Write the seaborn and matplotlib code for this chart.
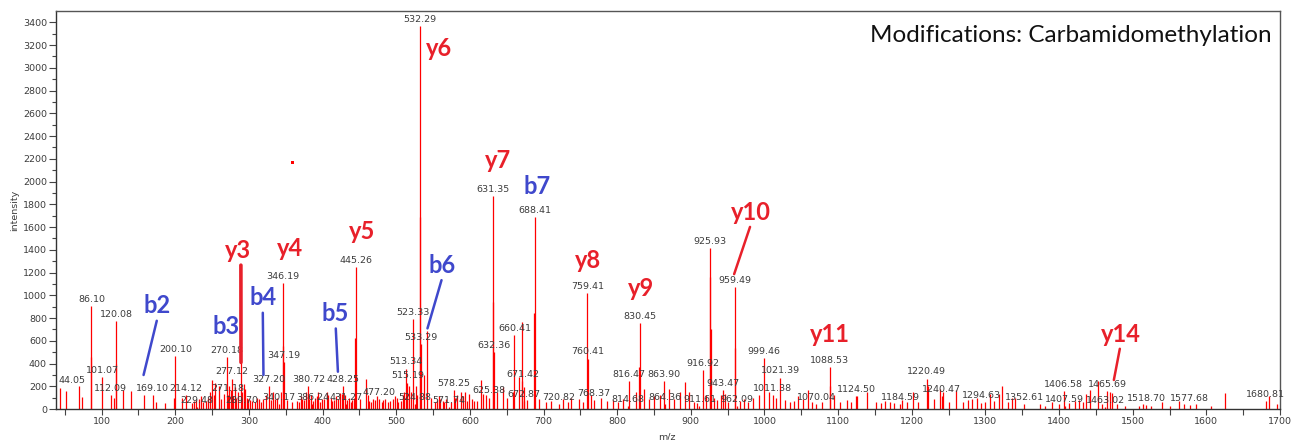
import matplotlib
matplotlib.use("Agg")
import matplotlib.pyplot as plt
import seaborn as sns
import pandas as pd

# ---- annotated fragment peaks (m/z, intensity) ----
labeled_mz = [44.05, 86.10, 101.07, 112.09, 120.08, 169.10, 200.10, 214.12, 229.48,
              270.18, 271.18, 277.12, 289.70, 327.20, 340.17, 346.19, 347.19, 380.72,
              386.24, 428.25, 431.27, 445.26, 477.20, 513.34, 515.19, 523.33, 524.88,
              532.29, 533.29, 571.74, 578.25, 625.38, 631.35, 632.36, 660.41, 671.42,
              672.87, 688.41, 720.82, 759.41, 760.41, 768.37, 814.68, 816.47, 830.45,
              863.90, 864.36, 911.61, 916.92, 925.93, 943.47, 959.49, 962.09, 999.46,
              1011.38, 1021.39, 1070.04, 1088.53, 1124.50, 1184.59, 1220.49, 1240.47,
              1294.63, 1352.61, 1406.58, 1407.59, 1463.02, 1465.69, 1518.70, 1577.68,
              1680.81]
labeled_int = [189, 905, 285, 127, 778, 127, 470, 127, 20,
               461, 127, 268, 20, 198, 48, 1105, 409, 198,
               40, 205, 40, 1250, 92, 356, 233, 795, 40,
               3370, 575, 20, 171, 101, 1870, 505, 648, 242,
               66, 1690, 48, 1024, 444, 83, 22, 242, 760,
               242, 40, 22, 347, 1415, 171, 1075, 22, 452,
               119, 277, 40, 365, 110, 40, 268, 110,
               57, 48, 154, 22, 20, 154, 31, 31,
               66]

# ---- remaining centroided peaks ----
other_mz = [51.7, 69.8, 73.5, 85.6, 117.4, 119.6, 128.8, 139.7, 157.1, 174.1, 186.4,
            197.7, 209.0, 222.0, 226.0, 228.0, 232.0, 235.0, 238.0, 241.0, 244.0, 247.0,
            250.0, 252.0, 254.4, 259.0, 262.0, 266.0, 272.5, 275.0, 279.0, 281.6, 283.0,
            285.3, 289.2, 291.0, 293.0, 295.0, 297.5, 299.0, 302.0, 304.0, 308.0, 311.0,
            313.0, 316.0, 319.7, 323.0, 330.0, 333.0, 336.0, 338.0, 342.9,
            345.7, 352.0, 358.0, 365.0, 368.0, 370.0, 372.0, 375.0, 377.0, 380.0, 382.0,
            384.0, 387.0, 390.0, 392.0, 394.0, 397.0, 399.0, 402.0, 405.4, 408.0,
            411.0, 413.0, 416.0, 418.0, 421.0, 423.6, 426.0, 430.0, 433.0, 435.8, 438.0,
            440.0, 442.0, 444.5, 451.0, 458.5, 461.0, 463.0, 466.0, 468.0, 471.0, 474.0,
            480.0, 482.0, 485.0, 489.0, 492.0, 495.0, 498.0, 501.6, 503.0, 506.0, 509.0,
            511.0, 514.0, 517.5, 520.0, 526.5, 528.0, 532.79,
            537.8, 541.5, 547.0, 552.0, 555.0, 558.0, 560.0, 563.0, 565.0, 568.0, 574.0,
            580.0, 583.0, 587.8, 590.0, 593.6, 596.0, 599.0, 603.0, 606.0, 610.0,
            615.0, 618.0, 621.8, 630.9, 637.0, 644.5, 650.0, 658.0, 667.0, 670.5, 674.0, 678.0,
            687.5, 694.0, 703.0, 710.0, 726.0, 733.0, 737.4, 748.7, 753.0, 764.0, 778.2,
            786.0, 794.0, 801.0, 808.0, 824.9, 829.9, 835.8, 843.0, 850.0, 857.6, 871.0,
            877.0, 884.8, 892.5, 897.0, 904.0, 908.0, 921.0, 926.43, 926.93, 931.0, 936.0,
            941.5, 946.0, 951.0, 959.99, 967.0, 972.0, 978.0, 984.6, 992.2, 1005.9, 1015.0,
            1028.0, 1034.0, 1040.0, 1045.8, 1052.0, 1059.4, 1065.0, 1077.6, 1089.5, 1094.8,
            1103.0, 1111.6, 1118.0, 1125.2, 1138.8, 1152.0, 1158.0, 1163.0, 1170.0, 1176.0,
            1186.3, 1193.0, 1201.4, 1208.0, 1221.5, 1230.0, 1238.5, 1243.0, 1250.0, 1259.9,
            1270.0, 1276.0, 1282.0, 1288.0, 1300.0, 1306.5, 1312.0, 1317.9, 1322.5, 1330.0,
            1336.0, 1340.6, 1374.6, 1381.0, 1390.5, 1400.0, 1414.0, 1422.0, 1426.8, 1432.0,
            1437.1, 1442.6, 1453.0, 1458.5, 1469.8, 1472.0, 1478.9, 1490.0, 1508.4, 1513.9,
            1525.0, 1540.1, 1550.0, 1562.8, 1570.0, 1585.4, 1605.8, 1625.4, 1685.2, 1696.6]
other_int = [161, 202, 105, 460, 96, 400, 167, 161, 120, 60, 52,
             100, 100, 50, 70, 80, 90, 110, 60, 70, 100, 150,
             255, 120, 232, 200, 90, 130, 200, 170, 110, 190, 100,
             150, 410, 150, 220, 180, 100, 90, 80, 70, 60, 100,
             90, 60, 90, 120, 80, 150, 90, 100, 150,
             556, 80, 60, 70, 60, 110, 90, 80, 150, 120, 90,
             120, 70, 100, 110, 150, 60, 90, 90, 150, 120,
             100, 70, 80, 110, 90, 140, 130, 120, 80, 100, 60,
             80, 100, 620, 90, 260, 120, 70, 60, 90, 80, 110,
             60, 80, 90, 60, 70, 90, 110, 100, 60, 70, 120,
             150, 100, 200, 150, 200, 120, 1690,
             300, 690, 100, 60, 80, 110, 90, 70, 60, 90, 60,
             100, 120, 150, 110, 150, 70, 130, 90, 70, 70,
             255, 130, 120, 940, 150, 190, 100, 150, 280, 766, 190, 80,
             840, 90, 60, 70, 90, 60, 100, 90, 60, 120, 100,
             70, 80, 60, 90, 150, 370, 180, 90, 110, 120, 180,
             90, 150, 240, 150, 60, 50, 120, 1160, 700, 100, 80,
             120, 130, 60, 533, 70, 90, 60, 100, 120, 150, 100,
             80, 60, 70, 110, 90, 170, 60, 60, 200, 120,
             60, 80, 60, 110, 150, 60, 50, 70, 60, 50,
             80, 60, 150, 60, 200, 90, 180, 150, 60, 170,
             60, 80, 90, 100, 60, 130, 70, 130, 200, 60,
             100, 100, 40, 30, 60, 40, 50, 70, 80, 60,
             130, 170, 250, 40, 150, 140, 40, 30, 30, 40,
             30, 60, 30, 70, 40, 40, 30, 140, 110, 40]

# ---- fragment ion assignments ----
ion_names = ["b2", "b3", "y3", "b4", "y4", "b5", "y5", "y6", "b6",
             "y7", "b7", "y8", "y9", "y10", "y11", "y14"]
ion_mz = [156.9, 270.18, 289.2, 319.7, 346.19, 420.8, 445.26, 532.29, 542.4,
          631.35, 688.41, 759.41, 830.45, 958.8, 1088.53, 1474.4]
ion_int = [299, 461, 410, 299, 1105, 328, 1250, 3370, 709,
           1870, 1690, 1024, 760, 1186, 365, 255]
ion_series = ["b", "b", "y", "b", "y", "b", "y", "y", "b",
              "y", "b", "y", "y", "y", "y", "y"]

# isolated point left from the acquisition
stray_mz = [358.8]
stray_int = [2168]

# ---- layout of the ion tags (offsets in pixels: dx right, dy down) ----
ion_offset_px = [(14, -69), (-0.6, -30), (-3.5, -112), (-0.7, -77), (6.8, -35),
                 (-2.3, -58), (6.4, -35), (19, 23), (15, -63),
                 (5, -36), (1.6, -30), (0.5, -32.5), (1.6, -34), (17, -62),
                 (0.2, -32.5), (6.6, -46)]
ion_pointer = [True, False, True, True, False, True, False, False, True,
               False, False, False, False, True, False, True]
ion_pointer_x = [0.5, 0.5, 0.63, 0.5, 0.5, 0.5, 0.5, 0.5, 0.5,
                 0.5, 0.5, 0.5, 0.5, 0.5, 0.5, 0.5]
ion_pointer_lw = [1.8, 1.8, 2.6, 1.8, 1.8, 1.8, 1.8, 1.8, 1.8,
                  1.8, 1.8, 1.8, 1.8, 1.8, 1.8, 1.8]

RED = "#ff0000"
ION_RED = "#e8202a"
ION_BLUE = "#3f48cc"
TEXT = "#3c3c3c"

sns.set_theme(style="ticks")
plt.rcParams["font.family"] = ["DejaVu Sans"]

peaks = pd.DataFrame({
    "mz": labeled_mz + other_mz,
    "intensity": labeled_int + other_int,
})

fig = plt.figure(figsize=(13.04, 4.40), dpi=100)
ax = fig.add_axes([56 / 1304, 31 / 440, 1224 / 1304, 398 / 440])

ax.vlines(peaks["mz"], 0, peaks["intensity"], color=RED, lw=0.9)

sns.scatterplot(x=stray_mz, y=stray_int, ax=ax, marker="s", s=5,
                color=RED, edgecolor="none", linewidth=0)

# m/z tags above annotated peaks (the first one nudged clear of the axis)
for i, (mz, inten) in enumerate(zip(labeled_mz, labeled_int)):
    dx = 8.0 if i == 0 else 0.0
    ax.annotate(f"{mz:.2f}", xy=(mz, inten), xytext=(dx, 4.7),
                textcoords="offset points", ha="center", va="center",
                fontsize=6.8, color=TEXT)

# fragment ion tags
px2pt = 0.72
for name, mz, inten, series, (dx, dy), ptr, rx, plw in zip(
        ion_names, ion_mz, ion_int, ion_series, ion_offset_px,
        ion_pointer, ion_pointer_x, ion_pointer_lw):
    col = ION_RED if series == "y" else ION_BLUE
    kw = {}
    if ptr:
        kw["arrowprops"] = dict(arrowstyle="-", color=col, lw=plw,
                                shrinkA=0, shrinkB=0, relpos=(rx, 0.0))
    ax.annotate(name, xy=(mz, inten), xytext=(dx * px2pt, -dy * px2pt),
                textcoords="offset points", ha="center", va="center",
                fontsize=17, fontweight="bold", color=col,
                family=["Lato", "DejaVu Sans"], **kw)

ax.text(0.9935, 0.938, "Modifications: Carbamidomethylation", transform=ax.transAxes,
        ha="right", va="center", fontsize=17.5, color="#111111",
        family=["Lato", "DejaVu Sans"])

ax.set_xlim(38, 1700)
ax.set_ylim(0, 3500)
ax.set_xticks(range(100, 1701, 100))
ax.set_xticks(range(50, 1701, 100), minor=True)
ax.set_yticks(range(0, 3401, 200))
ax.set_yticks(range(100, 3500, 200), minor=True)
ax.tick_params(axis="both", which="major", labelsize=6.8, labelcolor=TEXT,
               color="#444444", width=0.8)
ax.tick_params(axis="y", which="major", length=5, pad=1.5)
ax.tick_params(axis="y", which="minor", length=3, color="#444444", width=0.8)
ax.tick_params(axis="x", which="major", length=4, pad=2)
ax.tick_params(axis="x", which="minor", length=4, color="#444444", width=0.8)

ax.set_xlabel("m/z", fontsize=6.8, color=TEXT)
ax.set_ylabel("intensity", fontsize=6.8, color=TEXT)
ax.xaxis.set_label_coords((666.7 - 56) / 1224, -0.058)
ax.yaxis.set_label_coords(-(56 - 19) / 1224, (409 - 210) / 398)

for side in ["left", "bottom", "top", "right"]:
    ax.spines[side].set_visible(True)
    ax.spines[side].set_color("#555555")
    ax.spines[side].set_linewidth(1.0)
ax.spines["left"].set_color("#333333")
ax.spines["bottom"].set_color("#333333")

fig.savefig("out.png", dpi=100)
